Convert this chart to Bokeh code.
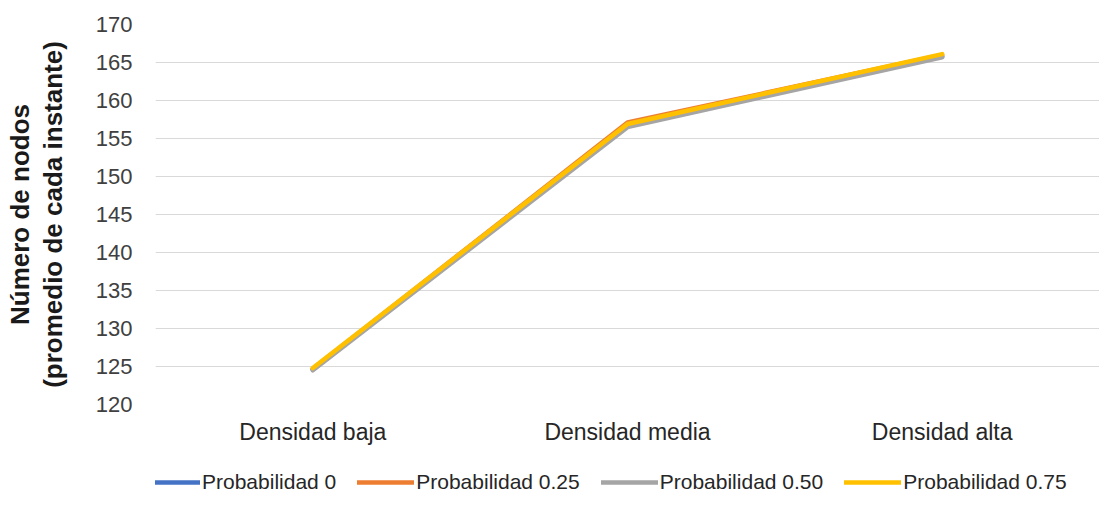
from bokeh.plotting import figure
from bokeh.layouts import column
from bokeh.models import Range1d, FactorRange, FixedTicker, Legend, LegendItem
from bokeh.embed import file_html
from bokeh.resources import INLINE

# Categories and series values
categorias = ["Densidad baja", "Densidad media", "Densidad alta"]
prob_0 = [124.6, 156.7, 165.8]
prob_025 = [124.7, 157.1, 166.0]
prob_050 = [124.5, 156.5, 165.7]
prob_075 = [124.8, 156.9, 166.1]
y_ticks = list(range(120, 171, 5))

series = [
    ("Probabilidad 0", prob_0, "#4472C4"),
    ("Probabilidad 0.25", prob_025, "#ED7D31"),
    ("Probabilidad 0.50", prob_050, "#A5A5A5"),
    ("Probabilidad 0.75", prob_075, "#FFC000"),
]

FONT = "Liberation Sans"
LINE_W = 4.5

p = figure(
    width=1099, height=455,
    x_range=FactorRange(*categorias, range_padding=0),
    y_range=Range1d(120, 170),
    output_backend="svg", toolbar_location=None,
    min_border_left=155, min_border_right=0,
    min_border_top=24, min_border_bottom=51,
)
p.outline_line_color = None
p.background_fill_color = "white"
p.border_fill_color = "white"

# grid
p.xgrid.grid_line_color = None
p.ygrid.grid_line_color = "#d9d9d9"
p.ygrid.grid_line_width = 1
p.yaxis.ticker = FixedTicker(ticks=y_ticks)

# y axis
p.yaxis.axis_line_color = None
p.yaxis.major_tick_line_color = None
p.yaxis.minor_tick_line_color = None
p.yaxis.major_label_text_font = FONT
p.yaxis.major_label_text_font_size = "22px"
p.yaxis.major_label_text_color = "#404040"
p.yaxis.major_label_standoff = 17
p.yaxis.axis_label = "Número de nodos\n(promedio de cada instante)"
p.yaxis.axis_label_text_font = FONT
p.yaxis.axis_label_text_font_size = "26px"
p.yaxis.axis_label_text_font_style = "bold"
p.yaxis.axis_label_text_color = "#1a1a1a"
p.yaxis.axis_label_text_line_height = 1.1
p.yaxis.axis_label_standoff = 25

# x axis
p.xaxis.axis_line_color = None
p.xaxis.major_tick_line_color = None
p.xaxis.minor_tick_line_color = None
p.xaxis.major_label_text_font = FONT
p.xaxis.major_label_text_font_size = "23px"
p.xaxis.major_label_text_color = "#262626"
p.xaxis.major_label_standoff = 8

for name, vals, color in series:
    p.line(categorias, vals, line_color=color, line_width=LINE_W,
           line_cap="round", line_join="round")

# legend strip underneath: same series, drawn outside its visible range
leg = figure(
    width=1099, height=54,
    x_range=FactorRange(*categorias, range_padding=0),
    y_range=Range1d(0, 1),
    output_backend="svg", toolbar_location=None,
    x_axis_location=None, y_axis_location=None,
    min_border_left=0, min_border_right=0,
    min_border_top=0, min_border_bottom=0,
)
leg.outline_line_color = None
leg.grid.grid_line_color = None
leg.border_fill_color = "white"

items = []
for name, vals, color in series:
    r = leg.line(categorias, vals, line_color=color, line_width=LINE_W,
                 line_cap="round")
    items.append(LegendItem(label=name, renderers=[r]))

legend = Legend(
    items=items, orientation="horizontal",
    location=(-12, 15),
    label_text_font=FONT, label_text_font_size="21px",
    label_text_color="#262626",
    glyph_width=57, glyph_height=20, label_standoff=2,
    spacing=21, padding=0, margin=0,
    border_line_color=None, background_fill_alpha=0,
)
leg.add_layout(legend, "center")

open("out.html", "w").write(file_html(column(p, leg, spacing=0), INLINE))
